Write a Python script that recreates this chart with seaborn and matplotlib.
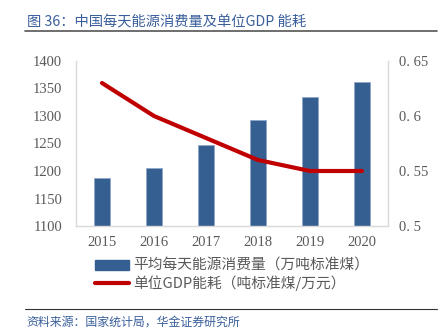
import matplotlib
matplotlib.use("Agg")
import matplotlib.pyplot as plt
import seaborn as sns
import pandas as pd
from matplotlib.lines import Line2D
from matplotlib.patches import Patch

years = ["2015", "2016", "2017", "2018", "2019", "2020"]
energy = [1188, 1205, 1248, 1292, 1335, 1361]
gdp_energy = [0.63, 0.60, 0.58, 0.56, 0.55, 0.55]
left_ticks = [1100, 1150, 1200, 1250, 1300, 1350, 1400]
right_ticks = [0.5, 0.55, 0.6, 0.65]
right_labels = ["0. 5", "0. 55", "0. 6", "0. 65"]

sns.set_theme(style="white")
plt.rcParams['font.family'] = ['Noto Sans CJK SC', 'DejaVu Sans']

BAR = "#365f91"
RED = "#c00000"
GREY = "#595959"
TITLE = "#3a5f9c"

df = pd.DataFrame({"year": years, "energy": energy, "gdp": gdp_energy})

fig = plt.figure(figsize=(4.45, 3.32), dpi=100)
ax = fig.add_axes([76/445, 1-226/332, (388-76)/445, (226-61)/332])
sns.barplot(data=df, x="year", y="energy", color=BAR, width=0.31, ax=ax,
            edgecolor="#8fa9cc", linewidth=0.6, saturation=1)
ax.set_ylim(1100, 1400)
ax.set_xlim(-0.5, 5.5)
ax.set_yticks(left_ticks)
ax.set_xlabel("")
ax.set_ylabel("")
serif = ['Liberation Serif', 'DejaVu Serif']
ax.set_yticklabels([str(t) for t in left_ticks], family=serif, fontsize=10.5, color=GREY)
ax.set_xticklabels(years, family=serif, fontsize=10.5, color=GREY)
ax.tick_params(axis='y', length=0, pad=10)
ax.tick_params(axis='x', length=0, pad=7)
ax.spines["top"].set_visible(False)
for s in ["left", "right", "bottom"]:
    ax.spines[s].set_color("#d9d9d9")
    ax.spines[s].set_linewidth(1.0)

ax2 = ax.twinx()
sns.lineplot(x=list(range(len(years))), y=gdp_energy, color=RED, linewidth=3, ax=ax2)
ax2.set_ylim(0.5, 0.65)
ax2.set_yticks(right_ticks)
ax2.set_yticklabels(right_labels, family=serif, fontsize=10.5, color=GREY)
ax2.tick_params(axis='y', length=0, pad=8)
ax2.set_ylabel("")
for s in ax2.spines.values():
    s.set_visible(False)

handles = [Patch(facecolor=BAR, edgecolor=BAR),
           Line2D([0], [0], color=RED, linewidth=3)]
labels = ["平均每天能源消费量（万吨标准煤）", "单位GDP能耗（吨标准煤/万元）"]
fig.legend(handles, labels, loc="upper left", bbox_to_anchor=(95/445, 1-259/332),
           frameon=False, fontsize=10.6, handlelength=2.3, handleheight=0.7,
           handletextpad=0.3, labelspacing=0.15, labelcolor=GREY,
           borderaxespad=0, borderpad=0)

fig.text(27/445, 1-22/332, "图 36：中国每天能源消费量及单位GDP 能耗", fontsize=10.3,
         color=TITLE, va="center", ha="left")
fig.add_artist(Line2D([25/445, 437/445], [1-31/332, 1-31/332], color="#555555", linewidth=1.2))
fig.add_artist(Line2D([25/445, 437/445], [1-309/332, 1-309/332], color="#333333", linewidth=0.8))
fig.text(26/445, 1-322/332, "资料来源：国家统计局，华金证券研究所", fontsize=8.6,
         color=TITLE, va="center", ha="left")

fig.savefig("out.png", dpi=100)
